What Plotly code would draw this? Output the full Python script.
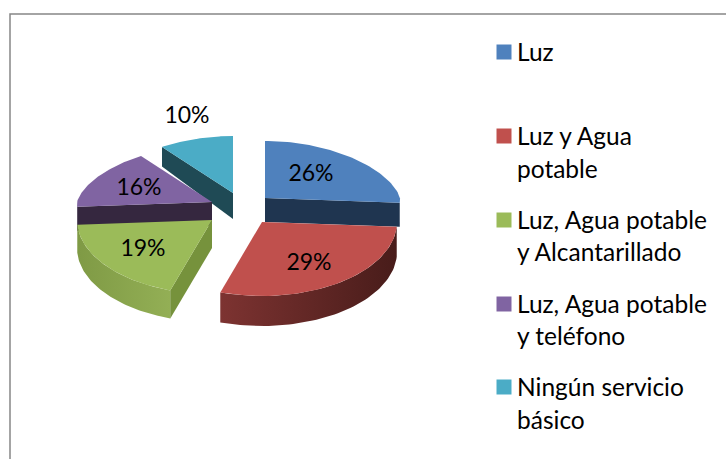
import math
import plotly.graph_objects as go

categories = ["Luz", "Luz y Agua potable", "Luz, Agua potable y Alcantarillado",
              "Luz, Agua potable y teléfono", "Ningún servicio básico"]
values = [26, 29, 19, 16, 10]
legend_lines = [["Luz"], ["Luz y Agua", "potable"], ["Luz, Agua potable", "y Alcantarillado"],
                ["Luz, Agua potable", "y teléfono"], ["Ningún servicio", "básico"]]
colors = ["#4F81BD", "#C0504D", "#9BBB59", "#8064A2", "#4BACC6"]
cut_colors = ["#1F3550", "#5A2523", "#76923C", "#35273F", "#1F4A55"]
wall_gradients = [["#1F3550", "#1F3550"], ["#7D3331", "#481C1A"], ["#7F9A45", "#93AF55"],
                  ["#35273F", "#35273F"], ["#1F4A55", "#1F4A55"]]

# layout of the exploded pie, in page pixels
apex = [(265, 198), (262, 222), (212, 220), (212, 202), (233, 193)]
depth = [24, 30, 28, 24, 26]
label_pos = [(311, 175), (309, 264), (143, 250), (139, 189), (187, 117)]
legend_y = [[51], [135, 168], [219, 251], [303, 335], [386, 419]]
RX, RY_BACK, RY_FRONT = 135, 57, 74

def rim(i, a):
    up = math.cos(a)
    ry = RY_BACK if up > 0 else RY_FRONT
    rx = RX * (1 - 0.13 * max(up, 0))
    return apex[i][0] + rx * math.sin(a), apex[i][1] - ry * up

def drop(i, a):
    return depth[i] * (1 - 0.3 * max(math.cos(a), 0))

total = sum(values)
bounds, acc = [], 0.0
for v in values:
    bounds.append((acc / total * 2 * math.pi, (acc + v) / total * 2 * math.pi))
    acc += v

def poly(xs, ys, color, gradient=None):
    kw = dict(fillcolor=color)
    if gradient:
        kw = dict(fillgradient=dict(type="horizontal",
                                    colorscale=[[0, gradient[0]], [1, gradient[1]]]))
    return go.Scatter(x=xs + xs[:1], y=ys + ys[:1], mode="lines", fill="toself",
                      line=dict(width=0), hoverinfo="skip", showlegend=False, **kw)

fig = go.Figure()
for i in [4, 3, 0, 2, 1]:
    a0, a1 = bounds[i]
    n = 60
    angles = [a0 + (a1 - a0) * k / n for k in range(n + 1)]
    ax, ay = apex[i]
    # outer wall (front half only)
    lo, hi = max(a0, math.pi / 2), min(a1, 3 * math.pi / 2)
    if hi > lo:
        wall = [lo + (hi - lo) * k / n for k in range(n + 1)]
        top = [rim(i, a) for a in wall]
        bot = [(rim(i, a)[0], rim(i, a)[1] + drop(i, a)) for a in reversed(wall)]
        pts = top + bot
        fig.add_trace(poly([p[0] for p in pts], [p[1] for p in pts], cut_colors[i], wall_gradients[i]))
    # cut face that faces the viewer
    cut_angle = {0: a1, 2: a0, 3: a0, 4: a0}.get(i)
    if cut_angle is not None:
        rx_, ry_ = rim(i, cut_angle)
        d = drop(i, cut_angle)
        fig.add_trace(poly([ax, rx_, rx_, ax], [ay, ry_, ry_ + d, ay + depth[i]], cut_colors[i]))
    # top face
    pts = [rim(i, a) for a in angles]
    fig.add_trace(poly([ax] + [p[0] for p in pts], [ay] + [p[1] for p in pts], colors[i]))

# percentage labels
fig.add_trace(go.Scatter(x=[p[0] for p in label_pos], y=[p[1] for p in label_pos], mode="text",
                         text=[f"{v}%" for v in values], textposition="middle center",
                         textfont=dict(family="Lato", size=23, color="black"),
                         hoverinfo="skip", showlegend=False))

# legend keys and text
legend_key_y = [52, 136, 220, 304, 387]
for i, lines in enumerate(legend_lines):
    fig.add_trace(go.Scatter(x=[504], y=[legend_key_y[i]], mode="markers", hoverinfo="name",
                             name=categories[i], showlegend=False,
                             marker=dict(symbol="square", size=15, color=colors[i])))
    for line, y in zip(lines, legend_y[i]):
        fig.add_annotation(x=518, y=y, text=line, showarrow=False, xanchor="left", yanchor="middle",
                           xshift=-3, font=dict(family="Lato", size=24.5, color="black"))

# chart frame: the right and bottom edges lie outside the picture
fig.add_shape(type="rect", x0=10, y0=14, x1=760, y1=500, line=dict(color="#868686", width=1.5),
              fillcolor="rgba(0,0,0,0)", layer="below")

fig.update_layout(width=726, height=459, margin=dict(l=0, r=0, t=0, b=0),
                  paper_bgcolor="white", plot_bgcolor="white", showlegend=False,
                  xaxis=dict(range=[0, 726], visible=False, fixedrange=True),
                  yaxis=dict(range=[459, 0], visible=False, fixedrange=True))
fig.write_html("out.html", config={"displayModeBar": False},
               post_script="document.body.style.margin='0';document.body.style.overflow='hidden';")
